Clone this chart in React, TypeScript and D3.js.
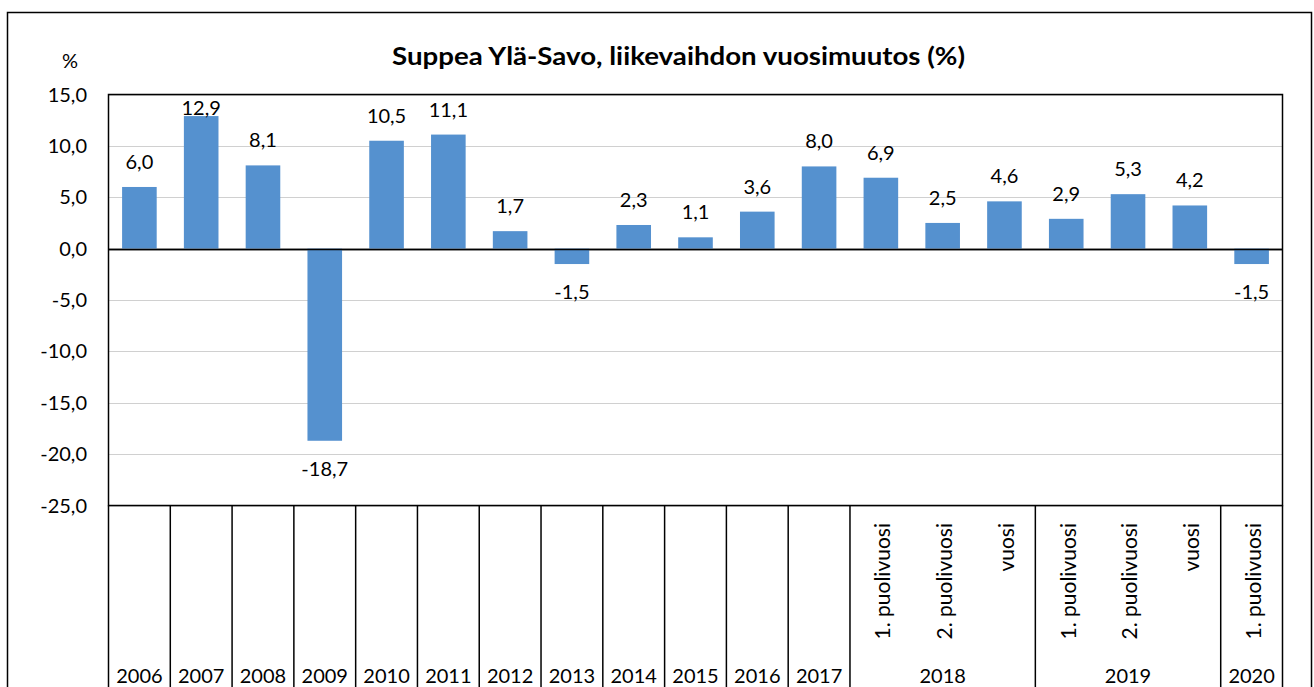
import React from "react";
import * as d3 from "d3";

const categories = ["2006","2007","2008","2009","2010","2011","2012","2013","2014","2015","2016","2017","2018-1","2018-2","2018-v","2019-1","2019-2","2019-v","2020-1"];
const subLabels = ["","","","","","","","","","","","","1. puolivuosi","2. puolivuosi","vuosi","1. puolivuosi","2. puolivuosi","vuosi","1. puolivuosi"];
const values = [6.0, 12.9, 8.1, -18.7, 10.5, 11.1, 1.7, -1.5, 2.3, 1.1, 3.6, 8.0, 6.9, 2.5, 4.6, 2.9, 5.3, 4.2, -1.5];
const groups = [
  { label: "2006", start: 0, end: 0 },
  { label: "2007", start: 1, end: 1 },
  { label: "2008", start: 2, end: 2 },
  { label: "2009", start: 3, end: 3 },
  { label: "2010", start: 4, end: 4 },
  { label: "2011", start: 5, end: 5 },
  { label: "2012", start: 6, end: 6 },
  { label: "2013", start: 7, end: 7 },
  { label: "2014", start: 8, end: 8 },
  { label: "2015", start: 9, end: 9 },
  { label: "2016", start: 10, end: 10 },
  { label: "2017", start: 11, end: 11 },
  { label: "2018", start: 12, end: 14 },
  { label: "2019", start: 15, end: 17 },
  { label: "2020", start: 18, end: 18 },
];
const yTicks = [15, 10, 5, 0, -5, -10, -15, -20, -25];
const title = "Suppea Ylä-Savo, liikevaihdon vuosimuutos (%)";

const W = 1314, H = 687;
const L = 108.5, R = 1282.5, T = 94.5, B = 505.5;
const FONT = "Lato, 'Open Sans', sans-serif";

export default function App() {
  const x = d3.scaleBand<string>().domain(categories).range([L, R]).paddingInner(0.44).paddingOuter(0.22);
  const xs = d3.scaleBand<string>().domain(categories).range([L, R]);
  const y = d3.scaleLinear().domain([-25, 15]).range([B, T]);
  const fmt = (v: number) => v.toFixed(1).replace(".", ",");
  const step = xs.step();
  return (
    <svg width={W} height={H} style={{ position: "absolute", left: 0, top: 0, background: "#fff" }} fontFamily={FONT}>
      <rect x={7.5} y={12.5} width={1304} height={690} fill="#fff" stroke="#000" strokeWidth={1.5} />
      <text x={678.5} y={65} textAnchor="middle" fontSize={25} fontWeight="bold" fill="#000" textLength={573} lengthAdjust="spacingAndGlyphs">{title}</text>
      <text x={70} y={68} textAnchor="middle" fontSize={20} fill="#000">%</text>
      {yTicks.map(t => (
        <g key={t}>
          <line x1={L} x2={R} y1={Math.round(y(t)) + 0.5} y2={Math.round(y(t)) + 0.5} stroke={t === 0 ? "#000" : "#d0d0d0"} strokeWidth={t === 0 ? 1.5 : 1} />
          <text x={87} y={y(t)} dy="0.35em" textAnchor="end" fontSize={20} fill="#000">{fmt(t)}</text>
        </g>
      ))}
      {categories.map((c, i) => {
        const v = values[i];
        const y0 = y(0), y1 = y(v);
        return (
          <rect key={c} x={x(c)} width={x.bandwidth()} y={Math.min(y0, y1)} height={Math.abs(y1 - y0)} fill="#5591cf" />
        );
      })}
      <line x1={L} x2={R} y1={Math.round(y(0)) + 0.5} y2={Math.round(y(0)) + 0.5} stroke="#000" strokeWidth={1.5} />
      {categories.map((c, i) => {
        const v = values[i];
        const cx = (xs(c) as number) + step / 2;
        let cy = v >= 0 ? y(v) - 25 : y(v) + 28;
        cy = Math.max(cy, T + 13);
        return (
          <text key={c} x={cx} y={cy} dy="0.35em" textAnchor="middle" fontSize={20} fill="#000">{fmt(v)}</text>
        );
      })}
      <rect x={L} y={T} width={R - L} height={B - T} fill="none" stroke="#000" strokeWidth={1.5} />
      {groups.map((g, gi) => {
        const x0 = xs(categories[g.start]) as number;
        const x1 = (xs(categories[g.end]) as number) + step;
        return (
          <g key={g.label}>
            <line x1={x0} x2={x0} y1={B} y2={H} stroke="#000" strokeWidth={1.5} />
            {gi === groups.length - 1 && <line x1={x1} x2={x1} y1={B} y2={H} stroke="#000" strokeWidth={1.5} />}
            <text x={(x0 + x1) / 2} y={683} textAnchor="middle" fontSize={20} fill="#000">{g.label}</text>
          </g>
        );
      })}
      {categories.map((c, i) => subLabels[i] ? (
        <text key={c} transform={`translate(${(xs(c) as number) + step / 2 + 2},523) rotate(-90)`} dy="0.35em" textAnchor="end" fontSize={21} fill="#000">{subLabels[i]}</text>
      ) : null)}
    </svg>
  );
}
